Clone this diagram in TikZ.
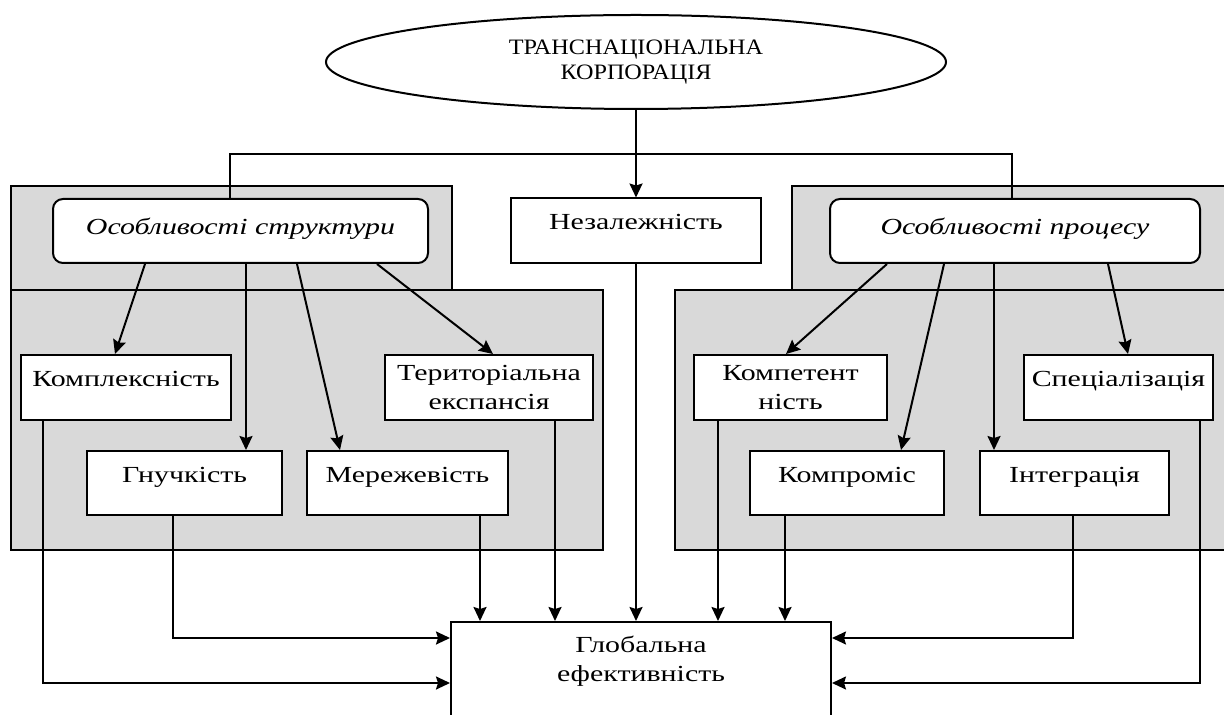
\documentclass[tikz,border=0pt]{standalone}
\usepackage{fontspec}
\setmainfont{Liberation Serif}[FakeStretch=1.3]
\newfontfamily\capsfont{Liberation Serif}[FakeStretch=1.1]
\usetikzlibrary{arrows.meta, calc, shapes.geometric}
\definecolor{panelgray}{RGB}{217,217,217}

\begin{document}
\begin{tikzpicture}[
  x=0.5pt, y=-0.5pt,
  >={Stealth[length=7pt, width=6.5pt, inset=1pt]},
  line width=1pt,
  panel/.style={draw, fill=panelgray},
  box/.style={draw, fill=white, minimum height=32.5pt, inner ysep=2pt,
    align=center, font=\fontsize{11.5}{14.5}\selectfont},
  onebox/.style={box, text height=8pt, text depth=9pt},
  head/.style={draw, fill=white, rounded corners=5pt, minimum height=32pt,
    text height=8pt, text depth=4pt, font=\itshape\fontsize{11.5}{14.5}\selectfont},
  oval/.style={draw, ellipse, fill=white, minimum width=310pt, minimum height=47pt,
    inner sep=0pt, align=center, font=\capsfont\fontsize{11}{12.5}\selectfont}
]
\useasboundingbox (0,0) rectangle (1224,715);
\clip (0,0) rectangle (1224,715);

% background panels
\draw[panel] (11,186) rectangle (452,290);
\draw[panel] (11,290) rectangle (603,550);
\draw[panel] (792,186) rectangle (1235,290);
\draw[panel] (675,290) rectangle (1235,550);

% top level
\node[oval] (corp) at (636,62) {ТРАНСНАЦІОНАЛЬНА\\КОРПОРАЦІЯ};
\node[head, minimum width=187.5pt] (struct) at (240.5,231) {Особливості структури};
\node[onebox, minimum width=125pt] (indep) at (636,231) {Незалежність};
\node[head, minimum width=185pt] (proc) at (1015,231) {Особливості процесу};
\coordinate (fork) at (636,154);

% structure side
\node[onebox, minimum width=105pt] (kompl) at (126,387.5) {Комплексність};
\node[box, minimum width=104pt] (terr) at (489,387.5) {Територіальна\\експансія};
\node[onebox, minimum width=97.5pt, minimum height=32pt] (flex) at (184.5,483) {Гнучкість};
\node[onebox, minimum width=100.5pt, minimum height=32pt] (net) at (407.5,483) {Мережевість};

% process side
\node[box, minimum width=96.5pt] (comp) at (790.5,387.5) {Компетент\\ність};
\node[onebox, minimum width=94.5pt] (spec) at (1118.5,387.5) {Спеціалізація};
\node[onebox, minimum width=97pt, minimum height=32pt] (compr) at (847,483) {Компроміс};
\node[onebox, minimum width=94.5pt, minimum height=32pt] (integ) at (1074.5,483) {Інтеграція};

% result
\node[box, minimum width=190pt, minimum height=47pt, text depth=10.5pt] (glob) at (641,669) {Глобальна\\ефективність};

% split from the top
\draw[->] (corp.south) -- (indep.north);
\draw ([xshift=-5.25pt]struct.north) |- (fork) -| ([xshift=-1.5pt]proc.north);

\draw[->] ($(struct.south)+(-95.5,0)$) -- ($(kompl.north)+(-11,0)$);
\draw[->] ($(struct.south)+(5.5,0)$) -- ($(flex.north)+(61.5,0)$);
\draw[->] ($(struct.south)+(56.5,0)$) -- ($(net.north)+(-67.5,0)$);
\draw[->] ($(struct.south)+(136.5,0)$) -- ($(terr.north)+(4,0)$);

\draw[->] ($(proc.south)+(-128,0)$) -- ($(comp.north)+(-4.5,0)$);
\draw[->] ($(proc.south)+(-71,0)$) -- ($(compr.north)+(54,0)$);
\draw[->] ($(proc.south)+(-21,0)$) -- ($(integ.north)+(-80.5,0)$);
\draw[->] ($(proc.south)+(93,0)$) -- ($(spec.north)+(9.5,0)$);

% into the result
\draw[->] ($(net.south)+(72.5,0)$) -- ($(net.south |- glob.north)+(72.5,0)$);
\draw[->] ($(terr.south)+(66,0)$) -- ($(terr.south |- glob.north)+(66,0)$);
\draw[->] (indep.south) -- (indep.south |- glob.north);
\draw[->] ($(comp.south)+(-72.5,0)$) -- ($(comp.south |- glob.north)+(-72.5,0)$);
\draw[->] ($(compr.south)+(-62,0)$) -- ($(compr.south |- glob.north)+(-62,0)$);
\draw[->] ($(kompl.south)+(-83,0)$) |- ($(glob.west)+(0,14)$);
\draw[->] ($(flex.south)+(-11.5,0)$) |- ($(glob.west)+(0,-31)$);
\draw[->] ($(integ.south)+(-1.5,0)$) |- ($(glob.east)+(0,-31)$);
\draw[->] ($(spec.south)+(81.5,0)$) |- ($(glob.east)+(0,14)$);
\end{tikzpicture}
\end{document}
